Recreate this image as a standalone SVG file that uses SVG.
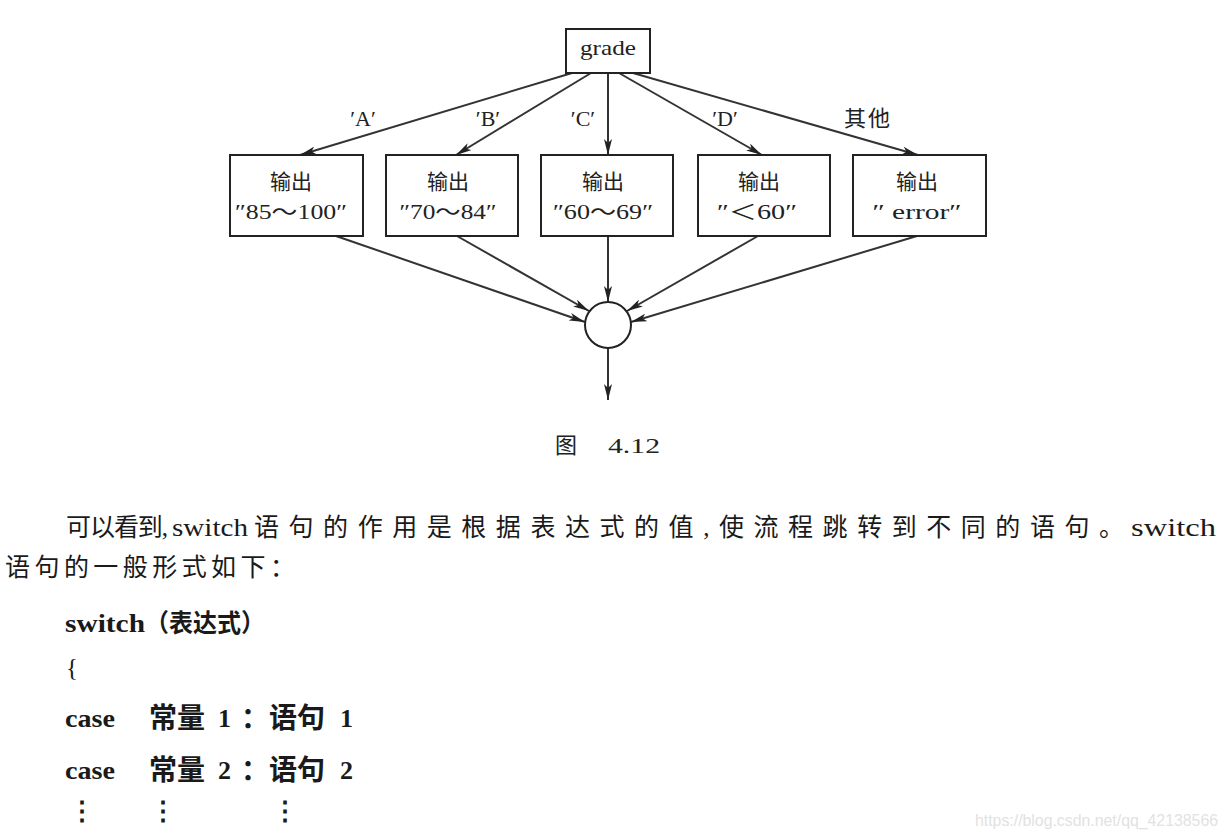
<svg xmlns="http://www.w3.org/2000/svg" width="1228" height="838" viewBox="0 0 1228 838">
<style>
.box{fill:#fff;stroke:#222;stroke-width:2}
.ln{stroke:#333;stroke-width:2;fill:none;marker-end:url(#ahl)}
.t{font-family:"Liberation Serif","Noto Sans CJK SC",serif;fill:#222;font-size:21px;text-anchor:middle}
.lab{font-family:"Liberation Serif","Noto Sans CJK SC",serif;fill:#222;font-size:22px;text-anchor:middle}
.body{font-family:"Liberation Serif","Noto Sans CJK SC",serif;fill:#1a1a1a;font-size:25px}
.code{font-family:"Liberation Serif","Noto Sans CJK SC",serif;fill:#1a1a1a;font-size:26px;font-weight:bold}
.cj{font-size:28px}
</style>
<defs>
<marker id="ahl" viewBox="0 0 16 8" refX="16" refY="4" markerWidth="16" markerHeight="8" markerUnits="userSpaceOnUse" orient="auto"><path d="M0,0 L16,4 L0,8 L4,4 Z" fill="#222"/></marker>
</defs>
<rect width="1228" height="838" fill="#fff"/>
<g id="connectors">
<path class="ln" d="M572,73 L300,155"/>
<path class="ln" d="M591,73 L456,155"/>
<path class="ln" d="M608,73 L608,155"/>
<path class="ln" d="M619,73 L762,155"/>
<path class="ln" d="M633,73 L918,155"/>
<path class="ln" d="M336,236 L585,322"/>
<path class="ln" d="M457,236 L589,311"/>
<path class="ln" d="M608,236 L608,302"/>
<path class="ln" d="M758,236 L627,311"/>
<path class="ln" d="M917,236 L631,322"/>
<path class="ln" d="M608,348 L608,400"/>
<text class="lab" x="363" y="126">′A′</text>
<text class="lab" x="488" y="126">′B′</text>
<text class="lab" x="583" y="126">′C′</text>
<text class="lab" x="725" y="126">′D′</text>
<text class="lab" x="868" y="126" letter-spacing="2">其他</text>
</g>
<g id="grade"><rect class="box" x="566" y="29" width="84" height="44"/><text class="t" x="608" y="55" textLength="56" lengthAdjust="spacingAndGlyphs">grade</text></g>
<g id="outA"><rect class="box" x="230" y="155" width="133" height="81"/><text class="t" x="291" y="189">输出</text><text class="t" x="291" y="219" textLength="112" lengthAdjust="spacingAndGlyphs">″85～100″</text></g>
<g id="outB"><rect class="box" x="386" y="155" width="132" height="81"/><text class="t" x="448" y="189">输出</text><text class="t" x="448" y="219" textLength="97" lengthAdjust="spacingAndGlyphs">″70～84″</text></g>
<g id="outC"><rect class="box" x="541" y="155" width="132" height="81"/><text class="t" x="603" y="189">输出</text><text class="t" x="603" y="219" textLength="100" lengthAdjust="spacingAndGlyphs">″60～69″</text></g>
<g id="outD"><rect class="box" x="698" y="155" width="132" height="81"/><text class="t" x="759" y="189">输出</text><text class="t" x="757" y="219" textLength="80" lengthAdjust="spacingAndGlyphs">″＜60″</text></g>
<g id="outE"><rect class="box" x="853" y="155" width="133" height="81"/><text class="t" x="917" y="189">输出</text><text class="t" x="917" y="219" textLength="89" lengthAdjust="spacingAndGlyphs">″ error″</text></g>
<g id="merge"><circle cx="608" cy="325" r="23" fill="#fff" stroke="#222" stroke-width="2"/></g>
<text class="t" x="566" y="453" style="font-size:22px">图</text>
<text class="t" x="634" y="453" style="font-size:22px" textLength="52" lengthAdjust="spacingAndGlyphs">4.12</text>
<text class="body" x="66" y="536" textLength="102" lengthAdjust="spacing">可以看到,</text>
<text class="body" x="172" y="536" textLength="76" lengthAdjust="spacingAndGlyphs">switch</text>
<text class="body" x="254" y="536" textLength="870" lengthAdjust="spacing">语句的作用是根据表达式的值,使流程跳转到不同的语句。</text>
<text class="body" x="1131" y="536" textLength="85" lengthAdjust="spacingAndGlyphs">switch</text>
<text class="body" x="5" y="576" textLength="290" lengthAdjust="spacing">语句的一般形式如下：</text>
<text class="code" x="65" y="632" textLength="80" lengthAdjust="spacingAndGlyphs">switch</text>
<text class="code" x="145" y="632" textLength="120" lengthAdjust="spacingAndGlyphs" style="font-size:25px">（表达式）</text>
<text class="body" x="66" y="676">{</text>
<text class="code" x="65" y="727" textLength="50" lengthAdjust="spacingAndGlyphs">case</text>
<text class="code cj" x="149" y="728">常量</text>
<text class="code" x="218" y="727">1</text>
<text class="code cj" x="241" y="728">：</text>
<text class="code cj" x="269" y="728">语句</text>
<text class="code" x="340" y="727">1</text>
<text class="code" x="65" y="779" textLength="50" lengthAdjust="spacingAndGlyphs">case</text>
<text class="code cj" x="149" y="780">常量</text>
<text class="code" x="218" y="779">2</text>
<text class="code cj" x="241" y="780">：</text>
<text class="code cj" x="269" y="780">语句</text>
<text class="code" x="340" y="779">2</text>
<text class="code" x="82" y="820" text-anchor="middle">⋮</text>
<text class="code" x="163" y="820" text-anchor="middle">⋮</text>
<text class="code" x="285" y="820" text-anchor="middle">⋮</text>
<text x="975" y="826" textLength="243" lengthAdjust="spacingAndGlyphs" style="font-family:'Liberation Sans',sans-serif;font-size:16px;fill:#e2e2e2">https://blog.csdn.net/qq_42138566</text>
</svg>
